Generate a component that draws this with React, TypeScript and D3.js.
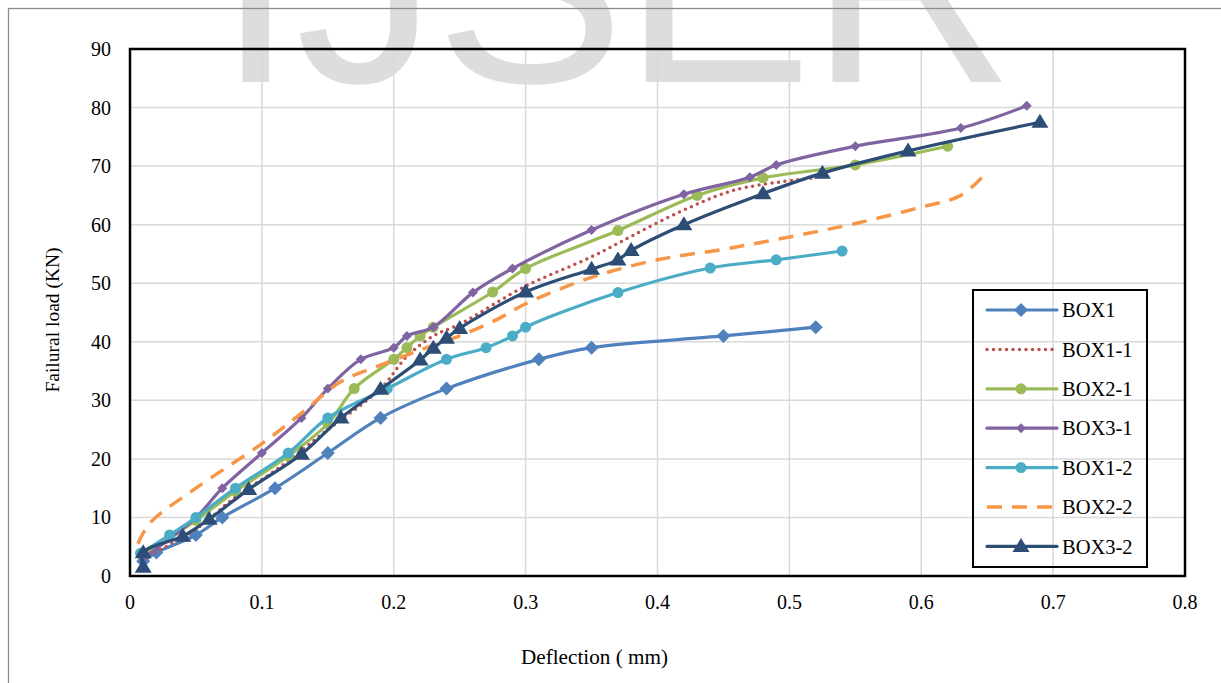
import React from "react";
import * as d3 from "d3";

const xTicks = [0, 0.1, 0.2, 0.3, 0.4, 0.5, 0.6, 0.7, 0.8];
const yTicks = [0, 10, 20, 30, 40, 50, 60, 70, 80, 90];

const box1X = [0.01, 0.02, 0.05, 0.07, 0.11, 0.15, 0.19, 0.24, 0.31, 0.35, 0.45, 0.52];
const box1Y = [2.5, 4, 7, 10, 15, 21, 27, 32, 37, 39, 41, 42.5];

const box11X = [0.01, 0.05, 0.08, 0.11, 0.15, 0.19, 0.21, 0.23, 0.25, 0.3, 0.35, 0.38, 0.42, 0.46, 0.52];
const box11Y = [3, 8, 13.5, 18, 25, 32, 37.5, 41, 43, 49.5, 54.5, 58, 62.5, 66, 68];

const box21X = [0.01, 0.05, 0.08, 0.12, 0.15, 0.17, 0.2, 0.21, 0.22, 0.23, 0.275, 0.3, 0.37, 0.43, 0.48, 0.55, 0.62];
const box21Y = [3.5, 9.5, 14.5, 20.5, 26, 32, 37, 39, 41, 42.5, 48.5, 52.5, 59, 65, 68, 70.2, 73.4];

const box31X = [0.01, 0.05, 0.07, 0.1, 0.13, 0.15, 0.175, 0.2, 0.21, 0.23, 0.26, 0.29, 0.35, 0.42, 0.47, 0.49, 0.55, 0.63, 0.68];
const box31Y = [3, 10, 15, 21, 27, 32, 37, 39, 41, 42.5, 48.4, 52.5, 59.1, 65.2, 68.1, 70.2, 73.4, 76.5, 80.3];

const box12X = [0.008, 0.03, 0.05, 0.08, 0.12, 0.15, 0.195, 0.24, 0.27, 0.29, 0.3, 0.37, 0.44, 0.49, 0.54];
const box12Y = [3.9, 7, 10, 15, 21, 27, 32, 37, 39, 41, 42.5, 48.4, 52.6, 54, 55.5];

const box22X = [0.006, 0.015, 0.05, 0.1, 0.13, 0.16, 0.19, 0.22, 0.25, 0.28, 0.3, 0.35, 0.4, 0.45, 0.5, 0.55, 0.6, 0.63, 0.65];
const box22Y = [5.5, 9, 15, 22.6, 27.8, 33.2, 36, 38.6, 41, 44, 46.5, 51, 54, 55.8, 57.9, 60.2, 63, 65, 69];

const box32X = [0.01, 0.01, 0.04, 0.06, 0.09, 0.13, 0.16, 0.19, 0.22, 0.23, 0.24, 0.25, 0.3, 0.35, 0.37, 0.38, 0.42, 0.48, 0.525, 0.59, 0.69];
const box32Y = [1.5, 4, 6.8, 9.7, 14.8, 20.8, 27, 31.9, 36.9, 38.9, 40.6, 42.3, 48.5, 52.4, 54, 55.6, 60, 65.3, 68.8, 72.6, 77.5];

type Marker = "diamond" | "smalldiamond" | "circle" | "triangle" | "none";
interface Series {
  name: string;
  xs: number[];
  ys: number[];
  color: string;
  dash?: string;
  cap?: "round" | "butt";
  marker: Marker;
}

const seriesList: Series[] = [
  { name: "BOX1", xs: box1X, ys: box1Y, color: "#4F81BD", marker: "diamond" },
  { name: "BOX1-1", xs: box11X, ys: box11Y, color: "#C0504D", dash: "0 6.5", cap: "round", marker: "none" },
  { name: "BOX2-1", xs: box21X, ys: box21Y, color: "#9BBB59", marker: "circle" },
  { name: "BOX3-1", xs: box31X, ys: box31Y, color: "#8064A2", marker: "smalldiamond" },
  { name: "BOX1-2", xs: box12X, ys: box12Y, color: "#4BACC6", marker: "circle" },
  { name: "BOX2-2", xs: box22X, ys: box22Y, color: "#F79646", dash: "15 10", cap: "butt", marker: "none" },
  { name: "BOX3-2", xs: box32X, ys: box32Y, color: "#2C4D75", marker: "triangle" },
];

const L = 130, R = 1185, T = 49, B = 576;
const xScale = d3.scaleLinear().domain([0, 0.8]).range([L, R]);
const yScale = d3.scaleLinear().domain([0, 90]).range([B, T]);

const serif = "'Liberation Serif', 'Times New Roman', serif";

function MarkerShape({ type, x, y, color }: { type: Marker; x: number; y: number; color: string }) {
  if (type === "none") return null;
  if (type === "circle") return <circle cx={x} cy={y} r={5.5} fill={color} />;
  if (type === "diamond") {
    const s = 7;
    return <path d={`M${x},${y - s}L${x + s},${y}L${x},${y + s}L${x - s},${y}Z`} fill={color} />;
  }
  if (type === "smalldiamond") {
    const s = 5;
    return <path d={`M${x},${y - s}L${x + s},${y}L${x},${y + s}L${x - s},${y}Z`} fill={color} />;
  }
  const h = 14, w = 8.5;
  return <path d={`M${x},${y - h * 0.6}L${x + w},${y + h * 0.4}L${x - w},${y + h * 0.4}Z`} fill={color} />;
}

// watermark letters: ink left edge and the font's left side bearing (em fraction)
const watermarkLetters = ["I", "J", "S", "E", "R"];
const watermarkLeft = [243, 303, 448, 645, 832];
const watermarkBearing = [0.094, 0.027, 0.046, 0.079, 0.08];

export default function App() {
  const line = d3
    .line<[number, number]>()
    .x((d) => xScale(d[0]))
    .y((d) => yScale(d[1]))
    .curve(d3.curveCatmullRom.alpha(0.5));

  const legX = 973, legY = 290, legW = 174, legH = 277;
  const rowY0 = 310, rowStep = 39.4;
  const wmSize = 285;

  return (
    <svg width={1221} height={683} style={{ position: "absolute", left: 0, top: 0 }}>
      <rect x={0} y={0} width={1221} height={683} fill="#fff" />
      {/* watermark */}
      <g fill="#dddddd" fontFamily="'Liberation Sans', Arial, sans-serif" fontSize={wmSize}>
        {watermarkLetters.map((ch, i) => (
          <text key={ch} x={watermarkLeft[i] - watermarkBearing[i] * wmSize} y={82}>{ch}</text>
        ))}
      </g>
      {/* outer frame */}
      <rect x={8.5} y={8.5} width={1400} height={900} fill="none" stroke="#8c8c8c" strokeWidth={1.3} />
      {/* gridlines */}
      <g stroke="#d9d9d9" strokeWidth={1.5}>
        {xTicks.slice(1, -1).map((t) => (
          <line key={"vx" + t} x1={xScale(t)} x2={xScale(t)} y1={T} y2={B} />
        ))}
        {yTicks.slice(1, -1).map((t) => (
          <line key={"hy" + t} x1={L} x2={R} y1={yScale(t)} y2={yScale(t)} />
        ))}
      </g>
      {/* plot border */}
      <rect x={L} y={T} width={R - L} height={B - T} fill="none" stroke="#000" strokeWidth={2.5} />
      {/* tick labels */}
      <g fontFamily={serif} fontSize={20} fill="#000">
        {yTicks.map((t) => (
          <text key={"yl" + t} x={111} y={yScale(t)} dy="0.35em" textAnchor="end">{t}</text>
        ))}
        {xTicks.map((t) => (
          <text key={"xl" + t} x={xScale(t)} y={609} textAnchor="middle">{t}</text>
        ))}
      </g>
      {/* axis titles */}
      <text x={521} y={664} textLength={147} lengthAdjust="spacingAndGlyphs" fontFamily={serif} fontSize={20}>Deflection ( mm)</text>
      <text transform="translate(59,320) rotate(-90)" textAnchor="middle" fontFamily={serif} fontSize={19.5}>Failural load (KN)</text>
      {/* series */}
      {seriesList.map((s) => {
        const pts: [number, number][] = s.xs.map((x, i) => [x, s.ys[i]]);
        return (
          <g key={s.name}>
            <path d={line(pts) || ""} fill="none" stroke={s.color} strokeWidth={s.dash ? 3.5 : 3.2}
              strokeDasharray={s.dash} strokeLinecap={s.cap || "round"} strokeLinejoin="round" />
            {pts.map((p, i) => (
              <MarkerShape key={i} type={s.marker} x={xScale(p[0])} y={yScale(p[1])} color={s.color} />
            ))}
          </g>
        );
      })}
      {/* legend */}
      <rect x={legX} y={legY} width={legW} height={legH} fill="none" stroke="#000" strokeWidth={2} />
      {seriesList.map((s, i) => {
        const y = rowY0 + i * rowStep;
        return (
          <g key={"leg" + s.name}>
            <line x1={987} x2={1057} y1={y} y2={y} stroke={s.color} strokeWidth={s.dash ? 3.5 : 3.2}
              strokeDasharray={s.dash} strokeLinecap={s.cap || "round"} />
            <MarkerShape type={s.marker} x={1021} y={y} color={s.color} />
            <text x={1062} y={y} dy="0.35em" fontFamily={serif} fontSize={20.5}>{s.name}</text>
          </g>
        );
      })}
    </svg>
  );
}
